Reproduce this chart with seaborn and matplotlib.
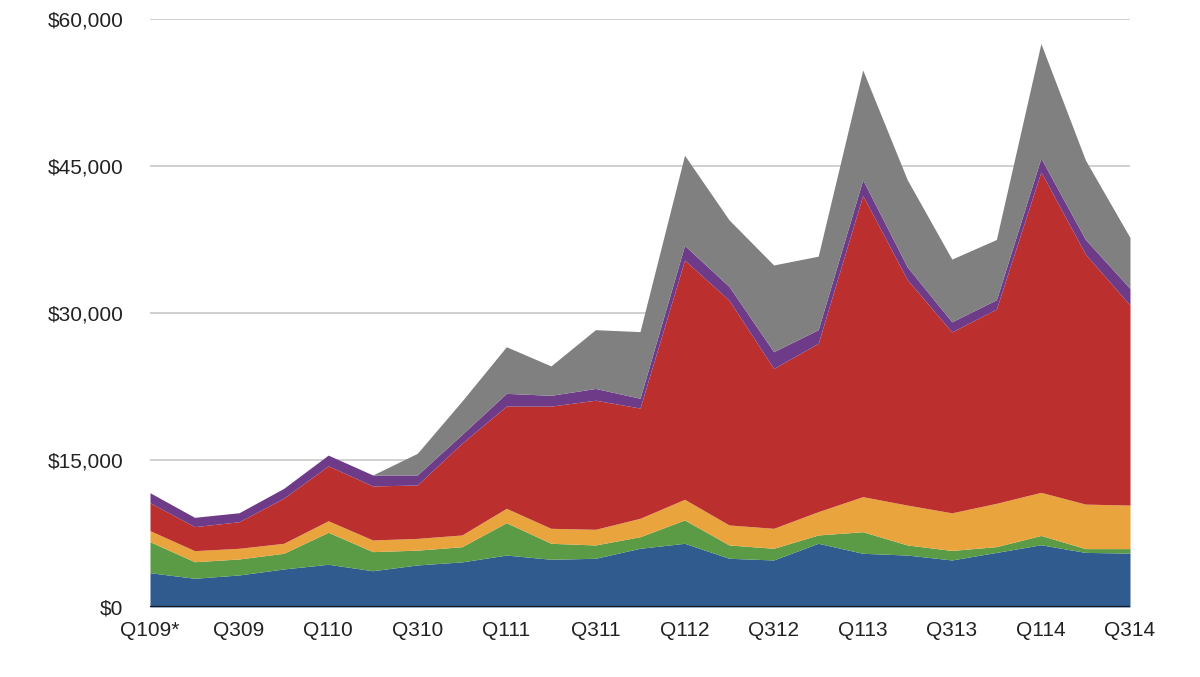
import matplotlib
matplotlib.use('Agg')
import matplotlib.pyplot as plt
import seaborn as sns
import numpy as np
from matplotlib.ticker import FuncFormatter

# --- data (revenue per quarter, $M) ---
quarters = ["Q109*", "Q209", "Q309", "Q409", "Q110", "Q210", "Q310", "Q410",
            "Q111", "Q211", "Q311", "Q411", "Q112", "Q212", "Q312", "Q412",
            "Q113", "Q213", "Q313", "Q413", "Q114", "Q214", "Q314"]

blue = [3500, 2930, 3270, 3880, 4360, 3700, 4290, 4600, 5300, 4870, 4970, 5990,
        6500, 4970, 4800, 6500, 5480, 5300, 4800, 5570, 6350, 5570, 5500]
green = [3160, 1690, 1630, 1600, 3260, 1950, 1510, 1550, 3300, 1630, 1360, 1180,
         2380, 1360, 1190, 850, 2200, 1030, 970, 590, 950, 390, 460]
orange = [1130, 1130, 1090, 1020, 1180, 1190, 1200, 1200, 1470, 1530, 1600, 1880,
          2110, 2040, 2040, 2380, 3580, 4070, 3840, 4420, 4400, 4540, 4440]
red = [2850, 2450, 2710, 4600, 5600, 5510, 5450, 9350, 10430, 12470, 13170, 11250,
       24410, 22930, 16320, 17170, 30740, 23000, 18460, 19820, 32700, 25500, 20400]
purple = [1020, 950, 920, 1000, 1100, 1120, 1020, 900, 1300, 1100, 1200, 1000,
          1500, 1400, 1700, 1400, 1600, 1300, 1030, 950, 1400, 1500, 1700]
gray = [0, 0, 0, 0, 0, 0, 2210, 3400, 4760, 3000, 6000, 6800,
        9200, 6800, 8850, 7500, 11200, 8900, 6400, 6150, 11700, 8100, 5200]

y_ticks = [0, 15000, 30000, 45000, 60000]

# --- style ---
sns.set_theme(style="white")
plt.rcParams['font.family'] = ['Liberation Sans', 'DejaVu Sans']

colors = sns.color_palette(["#2F5B8F", "#5B9B46", "#E9A43E", "#BC2F2F", "#6E3B89", "#808080"])

fig = plt.figure(figsize=(12, 6.77), dpi=100)
ax = fig.add_axes([150 / 1200, 1 - 607 / 677, 980 / 1200, 588 / 677])

x = np.arange(len(quarters))
ax.stackplot(x, blue, green, orange, red, purple, gray, colors=colors,
             linewidth=0, zorder=2)

# light gridlines, dark baseline
for t in y_ticks[1:]:
    ax.axhline(t, color="#c8c8c8", linewidth=1.2, zorder=1)
ax.axhline(0, color="#1a1a1a", linewidth=1.6, zorder=3)

ax.set_xlim(0, len(quarters) - 1)
ax.set_ylim(0, 60000)
ax.set_yticks(y_ticks)
ax.yaxis.set_major_formatter(FuncFormatter(lambda v, p: f"${int(v):,}"))
ax.set_xticks(x[::2])
ax.set_xticklabels(quarters[::2])

ax.tick_params(axis='y', length=0, pad=19, labelsize=15, labelcolor="#222222")
ax.tick_params(axis='x', length=0, pad=10, labelsize=15, labelcolor="#222222")

sns.despine(ax=ax, left=True, bottom=True)
ax.grid(False)

fig.savefig("out.png", dpi=100, facecolor="white")
plt.close(fig)
